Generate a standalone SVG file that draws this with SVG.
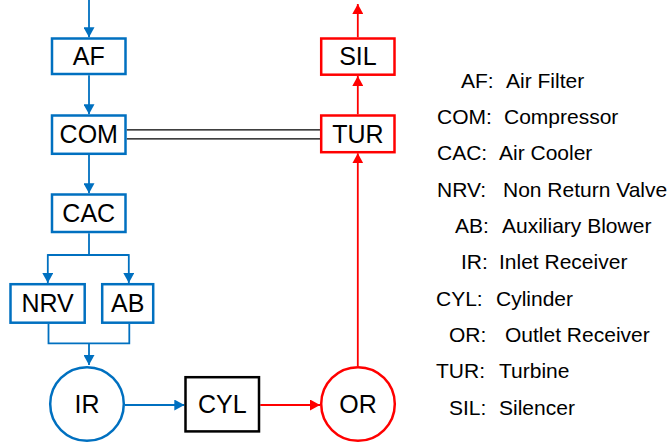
<svg xmlns="http://www.w3.org/2000/svg" width="670" height="447" viewBox="0 0 670 447">
  <style>
    .bb { fill: #ffffff; stroke: #0070C0; stroke-width: 2.5; }
    .rb { fill: #ffffff; stroke: #FF0000; stroke-width: 2.5; }
    .kb { fill: #ffffff; stroke: #000000; stroke-width: 2.5; }
    .lbl { font-family: "Liberation Sans", Arial, sans-serif; font-size: 25px; fill: #000000; text-anchor: middle; }
    .leg { font-family: "Liberation Sans", Arial, sans-serif; font-size: 21px; fill: #000000; }
    .bl { fill: none; stroke: #0070C0; stroke-width: 1.8; }
    .rl { fill: none; stroke: #FF0000; stroke-width: 1.8; }
    .kl { fill: none; stroke: #000000; stroke-width: 1.3; }
  </style>
  <defs>
    <marker id="ab" markerUnits="userSpaceOnUse" markerWidth="10" markerHeight="11" viewBox="0 0 10 11" refX="10" refY="5.5" orient="auto">
      <path d="M0,0 L10,5.5 L0,11 z" fill="#0070C0"/>
    </marker>
    <marker id="ar" markerUnits="userSpaceOnUse" markerWidth="10" markerHeight="11" viewBox="0 0 10 11" refX="10" refY="5.5" orient="auto">
      <path d="M0,0 L10,5.5 L0,11 z" fill="#FF0000"/>
    </marker>
  </defs>

  <g id="connectors">
    <line class="bl" x1="89" y1="0" x2="89" y2="37.3" marker-end="url(#ab)"/>
    <line class="bl" x1="89" y1="75.3" x2="89" y2="114.3" marker-end="url(#ab)"/>
    <line class="bl" x1="89" y1="155" x2="89" y2="193.3" marker-end="url(#ab)"/>
    <polyline class="bl" points="89,233.3 89,255"/>
    <polyline class="bl" points="47.8,255 128.8,255"/>
    <line class="bl" x1="47.8" y1="254.1" x2="47.8" y2="283" marker-end="url(#ab)"/>
    <line class="bl" x1="128.8" y1="254.1" x2="128.8" y2="283" marker-end="url(#ab)"/>
    <polyline class="bl" points="48.5,324 48.5,343.3 129.3,343.3 129.3,324"/>
    <line class="bl" x1="89" y1="343.3" x2="89" y2="365" marker-end="url(#ab)"/>
    <line class="bl" x1="125" y1="405" x2="184.3" y2="405" marker-end="url(#ab)"/>
    <line class="rl" x1="260.3" y1="405" x2="320" y2="405" marker-end="url(#ar)"/>
    <line class="rl" x1="357.8" y1="366" x2="357.8" y2="153.3" marker-end="url(#ar)"/>
    <line class="rl" x1="357.8" y1="114.3" x2="357.8" y2="76" marker-end="url(#ar)"/>
    <line class="rl" x1="357.8" y1="37.3" x2="357.8" y2="4" marker-end="url(#ar)"/>
    <line class="kl" x1="126.7" y1="129.8" x2="320" y2="129.8"/>
    <line class="kl" x1="126.7" y1="138.8" x2="320" y2="138.8"/>
  </g>

  <g id="AF">
    <rect class="bb" x="52" y="38.5" width="73.5" height="35.5"/>
    <text class="lbl" x="88.75" y="65.2">AF</text>
  </g>
  <g id="COM">
    <rect class="bb" x="52" y="115.5" width="73.5" height="38.3"/>
    <text class="lbl" x="88.75" y="143.4">COM</text>
  </g>
  <g id="CAC">
    <rect class="bb" x="52" y="194.5" width="73.5" height="37.5"/>
    <text class="lbl" x="88.75" y="222.1">CAC</text>
  </g>
  <g id="NRV">
    <rect class="bb" x="10.5" y="284.2" width="74.2" height="38.5"/>
    <text class="lbl" x="47.6" y="312.4">NRV</text>
  </g>
  <g id="AB">
    <rect class="bb" x="102.2" y="284.2" width="51" height="38.5"/>
    <text class="lbl" x="127.7" y="312.4">AB</text>
  </g>
  <g id="IR">
    <circle class="bb" cx="87" cy="404" r="36.8"/>
    <text class="lbl" x="87" y="412.9">IR</text>
  </g>
  <g id="CYL">
    <rect class="kb" x="185.5" y="377.2" width="73.5" height="54.2"/>
    <text class="lbl" x="222.3" y="412.9">CYL</text>
  </g>
  <g id="OR">
    <circle class="rb" cx="358" cy="404" r="36.8"/>
    <text class="lbl" x="358" y="412.9">OR</text>
  </g>
  <g id="TUR">
    <rect class="rb" x="321.2" y="115.5" width="73.3" height="36.7"/>
    <text class="lbl" x="357.9" y="142.8">TUR</text>
  </g>
  <g id="SIL">
    <rect class="rb" x="321.2" y="38.5" width="73.3" height="36.2"/>
    <text class="lbl" x="357.9" y="65.4">SIL</text>
  </g>

  <g id="legend" class="leg">
    <text x="461" y="87.5">AF:</text><text x="506" y="87.5">Air Filter</text>
    <text x="437" y="123.8">COM:</text><text x="504" y="123.8">Compressor</text>
    <text x="437" y="160.2">CAC:</text><text x="499" y="160.2">Air Cooler</text>
    <text x="437" y="196.5">NRV:</text><text x="503" y="196.5">Non Return Valve</text>
    <text x="455" y="232.8">AB:</text><text x="502" y="232.8">Auxiliary Blower</text>
    <text x="461" y="269.2">IR:</text><text x="499" y="269.2">Inlet Receiver</text>
    <text x="436" y="305.5">CYL:</text><text x="496" y="305.5">Cylinder</text>
    <text x="449" y="341.8">OR:</text><text x="505" y="341.8">Outlet Receiver</text>
    <text x="436" y="378.2">TUR:</text><text x="499" y="378.2">Turbine</text>
    <text x="449" y="414.5">SIL:</text><text x="499" y="414.5">Silencer</text>
  </g>
</svg>
